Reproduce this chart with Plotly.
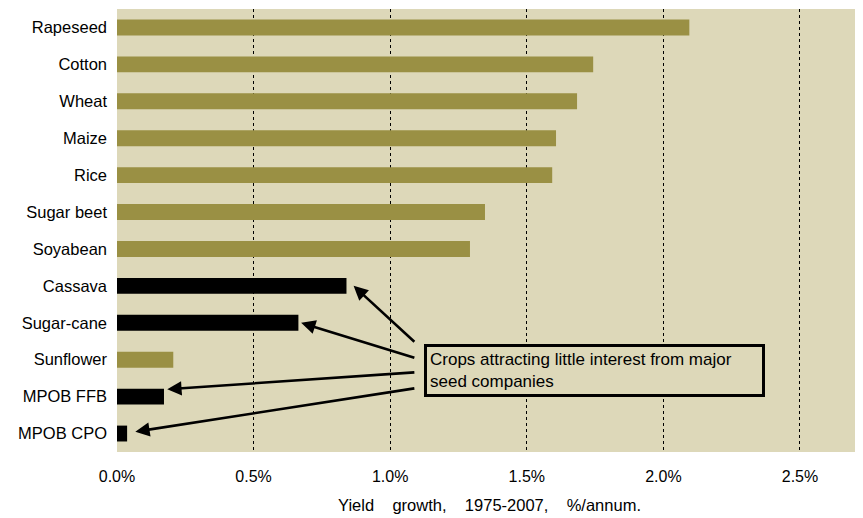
import plotly.graph_objects as go

crops = ["Rapeseed", "Cotton", "Wheat", "Maize", "Rice", "Sugar beet", "Soyabean",
         "Cassava", "Sugar-cane", "Sunflower", "MPOB FFB", "MPOB CPO"]
growth = [2.095, 1.743, 1.684, 1.607, 1.593, 1.347, 1.292, 0.840, 0.664, 0.206, 0.172, 0.037]
highlight = [False, False, False, False, False, False, False, True, True, False, True, True]
tick_vals = [0.0, 0.5, 1.0, 1.5, 2.0, 2.5]
tick_text = ["0.0%", "0.5%", "1.0%", "1.5%", "2.0%", "2.5%"]
note = "Crops attracting little interest from major<br>seed companies"
x_title = "Yield&nbsp;&nbsp;&nbsp;&nbsp;growth,&nbsp;&nbsp;&nbsp;&nbsp;1975-2007,&nbsp;&nbsp;&nbsp;&nbsp;%/annum."

OLIVE = "#9a9044"
BG = "#ddd8b9"
FONT = "Liberation Sans, Arial"
colors = ["#000000" if h else OLIVE for h in highlight]
idx = list(range(len(crops)))

fig = go.Figure(go.Bar(
    x=growth, y=idx, orientation="h", marker=dict(color=colors, line=dict(width=0)),
    width=0.43, hoverinfo="skip"))

# arrows: (crop index, head x offset, head y offset, tail y)
arrows = [(7, 0.026, 0.0, 8.55), (8, 0.01, 0.0, 8.96), (10, 0.012, -0.2, 9.34), (11, 0.03, -0.05, 9.77)]
tail_x = 1.094
for i, dx, dy, ty in arrows:
    fig.add_annotation(x=growth[i] + dx, y=i + dy, ax=tail_x, ay=ty, axref="x", ayref="y",
                       xref="x", yref="y", text="", showarrow=True, arrowhead=2,
                       arrowsize=1.1, arrowwidth=2.6, arrowcolor="#000000")

fig.add_annotation(x=1.124, y=8.58, xref="x", yref="y", xanchor="left", yanchor="top",
                   text=note, showarrow=False, align="left",
                   font=dict(family=FONT, size=17, color="#000000"),
                   bordercolor="#000000", borderwidth=3, borderpad=3, bgcolor=BG,
                   width=329)

fig.update_layout(
    width=855, height=510, margin=dict(l=109, r=1, t=1, b=66),
    paper_bgcolor="#ffffff", plot_bgcolor=BG, showlegend=False,
    font=dict(family=FONT, size=14, color="#000000"),
    xaxis=dict(range=[0, 2.727], tickvals=tick_vals, ticktext=tick_text,
               showgrid=True, gridcolor="#000000", griddash="dot", gridwidth=1,
               zeroline=False, showline=False, ticks="", ticklabelstandoff=13,
               tickfont=dict(size=16),
               title=dict(text=x_title, font=dict(size=16.5), standoff=15)),
    yaxis=dict(tickvals=idx, ticktext=crops, range=[11.5, -0.5], showgrid=False,
               zeroline=False, showline=False, ticks="", ticklabelstandoff=9,
               tickfont=dict(size=16.5)),
)

fig.write_html("out.html")
